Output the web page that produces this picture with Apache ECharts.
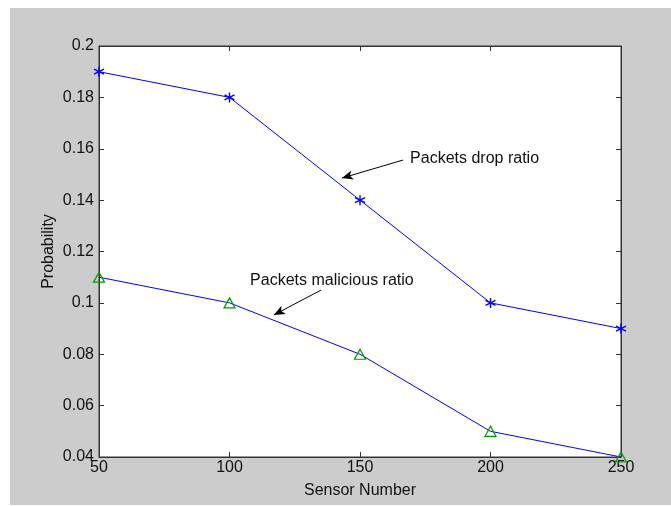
<!DOCTYPE html>
<html>
<head>
<meta charset="utf-8">
<script src="https://cdn.jsdelivr.net/npm/echarts@6/dist/echarts.min.js"></script>
<style>
html, body { margin: 0; padding: 0; background: #fff; }
#chart { width: 671px; height: 506px; }
</style>
</head>
<body>
<div id="chart"></div>
<script type="text/javascript">

// sensor counts on the x axis
var sensors = [50, 100, 150, 200, 250];
// probabilities
var dropRatio = [0.19, 0.18, 0.14, 0.10, 0.09];
var maliciousRatio = [0.11, 0.10, 0.08, 0.05, 0.04];

// annotation text + arrow (start -> tip), in data units
var dropNote = { text: 'Packets drop ratio', at: [169.2, 0.156], from: [166.5, 0.1556], to: [143.1, 0.1486] };
var malNote = { text: 'Packets malicious ratio', at: [107.9, 0.1085], from: [135.1, 0.1050], to: [117.0, 0.0953] };

var font = '"Liberation Sans", Arial, sans-serif';
var axisColor = '#333';
var asterisk = 'path://M0,-5L0,5M-4.4,-2.5L4.4,2.5M-4.4,2.5L4.4,-2.5';

function pairs(xs, ys){
    var out = [];
    for (var i = 0; i < xs.length; i++) out.push([xs[i], ys[i]]);
    return out;
}

function noteMarks(note){
    return {
        markLine: {
            silent: true,
            symbol: ['none', 'arrow'],
            symbolSize: [7, 11],
            lineStyle: { color: '#000', width: 1, type: 'solid' },
            label: { show: false },
            data: [[{ coord: note.from }, { coord: note.to }]]
        },
        markPoint: {
            silent: true,
            symbol: 'circle',
            symbolSize: 0,
            label: {
                show: true, position: 'right', distance: 0,
                formatter: note.text, color: '#111',
                fontFamily: font, fontSize: 16
            },
            data: [{ coord: note.at }]
        }
    };
}

var tickFmt = function(v){ return String(+v.toFixed(2)); };

var myChart = echarts.init(document.getElementById('chart'));

var dropSeries = {
    name: 'drop', type: 'line', data: pairs(sensors, dropRatio),
    symbol: asterisk, symbolSize: 10, showAllSymbol: true,
    lineStyle: { color: '#0000ff', width: 1 },
    itemStyle: { color: 'none', borderColor: '#0000ff', borderWidth: 1.4 },
    z: 3
};
var malSeries = {
    name: 'malicious', type: 'line', data: pairs(sensors, maliciousRatio),
    symbol: 'triangle', symbolSize: [11, 10], showAllSymbol: true,
    lineStyle: { color: '#0000ff', width: 1 },
    itemStyle: { color: 'none', borderColor: '#009900', borderWidth: 1.2 },
    z: 3
};
Object.assign(dropSeries, noteMarks(dropNote));
Object.assign(malSeries, noteMarks(malNote));

option = {
    backgroundColor: '#fff',
    animation: false,
    graphic: [{
        type: 'rect', z: -100,
        shape: { x: 10, y: 8, width: 661, height: 497 },
        style: { fill: '#cccccc' }
    }],
    grid: {
        left: 99, top: 46, right: 50, bottom: 49,
        show: true, backgroundColor: '#fff', borderColor: axisColor, borderWidth: 1
    },
    xAxis: [{
        type: 'value', min: 50, max: 250, interval: 50,
        name: 'Sensor Number', nameLocation: 'middle', nameGap: 26, nameMoveOverlap: false,
        nameTextStyle: { fontFamily: font, fontSize: 16, color: '#111' },
        axisLine: { lineStyle: { color: axisColor } },
        axisTick: { inside: true, length: 5, lineStyle: { color: axisColor } },
        axisLabel: { fontFamily: font, fontSize: 16, color: '#111', margin: 3 },
        splitLine: { show: false }
    }, {
        type: 'value', min: 50, max: 250, interval: 50, position: 'top',
        axisLine: { lineStyle: { color: axisColor } },
        axisTick: { inside: true, length: 5, lineStyle: { color: axisColor } },
        axisLabel: { show: false },
        splitLine: { show: false }
    }],
    yAxis: [{
        type: 'value', min: 0.04, max: 0.2, interval: 0.02,
        name: 'Probability', nameLocation: 'middle', nameGap: 42, nameMoveOverlap: false,
        nameTextStyle: { fontFamily: font, fontSize: 16, color: '#111' },
        axisLine: { show: true, lineStyle: { color: axisColor } },
        axisTick: { show: true, inside: true, length: 5, lineStyle: { color: axisColor } },
        axisLabel: { fontFamily: font, fontSize: 16, color: '#111', margin: 5, formatter: tickFmt },
        splitLine: { show: false }
    }, {
        type: 'value', min: 0.04, max: 0.2, interval: 0.02, position: 'right',
        axisLine: { show: true, lineStyle: { color: axisColor } },
        axisTick: { show: true, inside: true, length: 5, lineStyle: { color: axisColor } },
        axisLabel: { show: false },
        splitLine: { show: false }
    }],
    series: [dropSeries, malSeries]
};
myChart.setOption(option);

</script>
</body>
</html>
